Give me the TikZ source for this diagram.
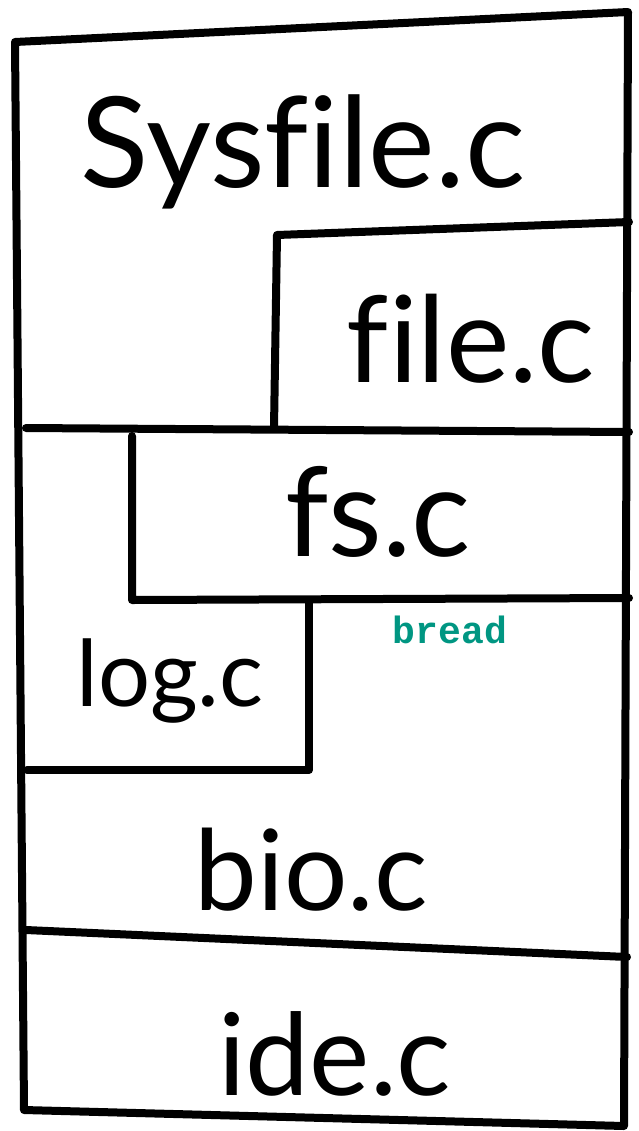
\documentclass[tikz,border=0pt]{standalone}
\usepackage{fontspec}
\setmainfont{Lato}[Ligatures=NoCommon]
\setmonofont{Liberation Mono}
\usepackage{tikz}
\definecolor{breadgreen}{RGB}{0,150,130}

\tikzset{
  pen/.style={line width=4pt, line cap=round, line join=round},
  layer/.style={anchor=base, inner sep=0pt, font=\fontsize{#1}{#1}\selectfont},
  layer/.default=57,
  call/.style={anchor=base, inner sep=0pt, text=breadgreen, font=\ttfamily\bfseries\fontsize{19}{19}\selectfont}
}

\begin{document}
\begin{tikzpicture}[x=0.5pt,y=-0.5pt]
  \useasboundingbox (0,0) rectangle (638,1131);
  % outer frame
  \coordinate (tl) at (15,42);  \coordinate (tr) at (628,12);
  \coordinate (bl) at (24,1110); \coordinate (br) at (624,1126);
  \draw[pen] (tl) -- (tr) -- (br) -- (bl) -- cycle;
  % file.c corner
  \coordinate (file-b) at (274,428);
  \coordinate (file-c) at (277,235);
  \coordinate (file-r) at (629,222);
  \draw[pen] (file-b) -- (file-c) -- (file-r);
  % sysfile / lower layers
  \coordinate (mid-l) at (26,428); \coordinate (mid-r) at (629,432);
  \draw[pen] (mid-l) -- (mid-r);
  % fs.c corner
  \coordinate (fs-t) at (132,436);
  \coordinate (fs-c) at (132,600);
  \coordinate (fs-r) at (629,598);
  \draw[pen] (fs-t) -- (fs-c) -- (fs-r);
  % log.c corner
  \coordinate (log-t) at (309,603);
  \coordinate (log-c) at (309,770);
  \coordinate (log-l) at (27,770);
  \draw[pen] (log-t) -- (log-c) -- (log-l);
  % bio / ide
  \coordinate (ide-l) at (26,930); \coordinate (ide-r) at (627,957);
  \draw[pen] (ide-l) -- (ide-r);

  \node[layer=63] (sysfile) at (303,187) {Sysfile.c};
  \node[layer=60] (file) at (471,382) {file.c};
  \node[layer=62] (fs) at (378,556) {fs.c};
  \node[layer=46] (log) at (170,706) {log.c};
  \node[call] (bread) at (450,643) {bread};
  \node[layer=56] (bio) at (311,910) {bio.c};
  \node[layer] (ide) at (335,1095) {ide.c};
\end{tikzpicture}
\end{document}
